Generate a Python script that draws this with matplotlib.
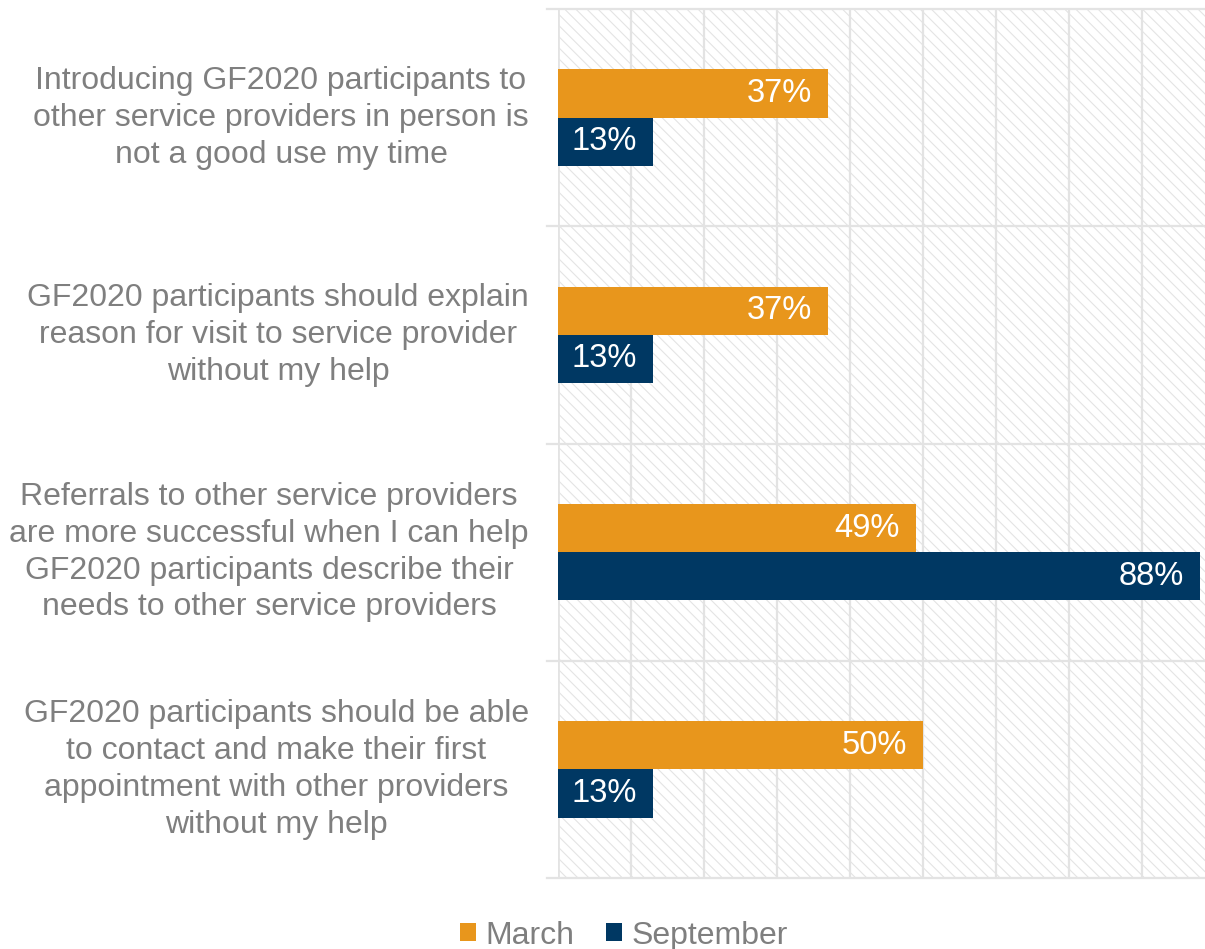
import numpy as np
import matplotlib.pyplot as plt
from matplotlib.patches import Rectangle

plt.rcParams['font.family'] = ['Liberation Sans', 'DejaVu Sans']
plt.rcParams['hatch.linewidth'] = 0.8

categories = [
    "Introducing GF2020 participants to\nother service providers in person is\nnot a good use my time",
    "GF2020 participants should explain\nreason for visit to service provider\nwithout my help",
    "Referrals to other service providers\nare more successful when I can help\nGF2020 participants describe their\nneeds to other service providers",
    "GF2020 participants should be able\nto contact and make their first\nappointment with other providers\nwithout my help",
]
march = [37, 37, 49, 50]
september = [13, 13, 88, 13]
series_names = ["March", "September"]

orange = '#E8961C'
navy = '#003863'
grid = '#e3e3e3'
text_gray = '#7f7f7f'

fig = plt.figure(figsize=(12.05, 9.49), dpi=100)
ax = fig.add_axes([558 / 1205, 1 - 878 / 949, 657 / 1205, 869 / 949])

n = len(categories)
y = np.arange(n)
h = 0.222

ax.set_xlim(0, 90)
ax.set_ylim(n - 0.5, -0.5)

# hatched background
ax.add_patch(Rectangle((0, -0.5), 90, n, facecolor='white', edgecolor='#e4e4e4',
                       hatch='\\\\\\', linewidth=0, zorder=0))

for xv in range(10, 91, 10):
    ax.axvline(xv, color=grid, lw=1.6, zorder=1)
for yb in np.arange(-0.5, n, 1.0):
    ax.axhline(yb, xmin=-0.016, xmax=1, color=grid, lw=1.6, zorder=1, clip_on=False)
ax.axvline(0, color=grid, lw=2, zorder=1)

b1 = ax.barh(y - h / 2, march, height=h, color=orange, zorder=3, label=series_names[0])
b2 = ax.barh(y + h / 2, september, height=h, color=navy, zorder=3, label=series_names[1])

for bars, vals in ((b1, march), (b2, september)):
    for bar, v in zip(bars, vals):
        ax.text(v - 2.2, bar.get_y() + bar.get_height() / 2, f"{v}%",
                ha='right', va='center', color='white', fontsize=23.5, zorder=4)

for yi, label in zip(y, categories):
    ax.text(-4.0, yi, label, ha='right', va='center', color=text_gray,
            fontsize=23, linespacing=1.3, multialignment='center')

for s in ax.spines.values():
    s.set_visible(False)
ax.set_xticks([])
ax.set_yticks([])

fig.legend(handles=[b1, b2], loc='lower center', bbox_to_anchor=(0.518, -0.032),
           ncol=2, frameon=False, fontsize=23, labelcolor=text_gray,
           handlelength=0.5, handleheight=0.5, handletextpad=0.3, columnspacing=1.0)

fig.savefig('out.png', dpi=100)
